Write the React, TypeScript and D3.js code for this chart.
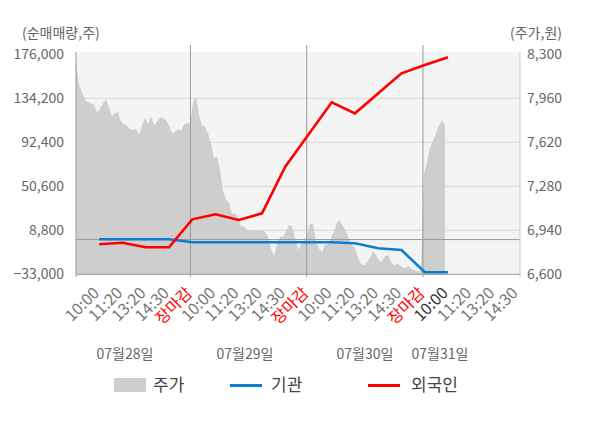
import * as d3 from 'd3';

// net buying (shares), left axis
const foreignNet = [-4500, -3000, -7300, -7300, 19200, 24000, 18600, 24900, 69200, 99800, 130400, 119900, 138900, 157900, 165800, 173100];
const instNet = [300, 300, 300, 300, -2600, -2600, -2600, -2600, -2600, -2600, -2600, -3500, -8300, -9900, -31100, -31100];

// stock price (won), right axis, one value per sample
const priceDay1 = [8260, 8060, 8010, 7950, 7930, 7920, 7910, 7850, 7880, 7920, 7950, 7890, 7820, 7850, 7850, 7780, 7760, 7750, 7720, 7720, 7720, 7680, 7750, 7810, 7760, 7820, 7750, 7780, 7810, 7810, 7790, 7750, 7690, 7700, 7720, 7710, 7760, 7770, 7760];
const priceDay2 = [7930, 7970, 7830, 7750, 7740, 7690, 7610, 7500, 7510, 7410, 7240, 7180, 7150, 7070, 7070, 7040, 6970, 6970, 6940, 6940, 6940, 6940, 6940, 6940, 6930, 6890, 6800, 6740, 6830, 6890, 6890, 6930, 6980, 6970, 6880, 6790, 6830, 6850];
const priceDay3 = [6910, 6990, 6990, 6850, 6800, 6770, 6830, 6830, 6880, 6930, 7000, 7020, 6970, 6930, 6870, 6830, 6800, 6730, 6680, 6670, 6690, 6730, 6780, 6750, 6700, 6700, 6740, 6750, 6700, 6670, 6680, 6670, 6650, 6650, 6660, 6640, 6630, 6620, 6630];
const priceDay4 = [7370, 7470, 7580, 7630, 7690, 7750, 7790, 7750];

const leftTicks = [-33000, 8800, 50600, 92400, 134200, 176000];
const rightTicks = [6600, 6940, 7280, 7620, 7960, 8300];
const timeLabels = ['10:00', '11:20', '13:20', '14:30', '장마감', '10:00', '11:20', '13:20', '14:30', '장마감', '10:00', '11:20', '13:20', '14:30', '장마감', '10:00', '11:20', '13:20', '14:30'];
const dateLabels = ['07월28일', '07월29일', '07월30일', '07월31일'];

const W = 600;
const H = 428;
const FONT = "'Noto Sans CJK KR', 'Noto Sans', sans-serif";
const SLOT = 7.75; // samples between time labels

export default function App() {
  const prices = [...priceDay1, ...priceDay2, ...priceDay3, ...priceDay4];

  const x = d3.scaleLinear().domain([0, 148]).range([76, 520]);
  const yL = d3.scaleLinear().domain([-33000, 176000]).range([274.3, 54.3]);
  const yR = d3.scaleLinear().domain([6600, 8300]).range([274.3, 54.3]);

  const plotTop = 51.7;
  const plotBottom = yL(-33000);
  const [x0, x1] = x.range();

  const area = d3
    .area<number>()
    .x((_, i) => x(i))
    .y0(plotBottom)
    .y1((d) => yR(d));

  const line = d3
    .line<number>()
    .x((_, i) => x((i + 1) * SLOT))
    .y((d) => yL(d));

  const dividers = [5, 10, 15].map((k) => x(k * SLOT - 0.6));
  const dateCenters = [125, 245, 365, 440];
  const fmt = d3.format(',');

  return (
    <svg width={W} height={H} style={{ position: 'absolute', left: 0, top: 0, background: '#fff' }} fontFamily={FONT}>
      <rect x={x0} y={plotTop} width={x1 - x0} height={plotBottom - plotTop} fill="#f4f4f4" />
      {leftTicks.slice(1, -1).map((t) => (
        <line key={t} x1={x0} x2={x1} y1={yL(t)} y2={yL(t)} stroke="#d8d8d8" strokeWidth={1} />
      ))}
      <path d={area(prices) ?? ''} fill="#cecece" />
      <line x1={x0} x2={x1} y1={yL(0)} y2={yL(0)} stroke="#999" strokeWidth={1} />
      {dividers.map((d, i) => (
        <line key={i} x1={d} x2={d} y1={45} y2={277} stroke="#999" strokeWidth={1} />
      ))}
      <line x1={x0} x2={x0} y1={plotTop} y2={277} stroke="#999" />
      <line x1={x1} x2={x1} y1={plotTop} y2={277} stroke="#ccc" />
      <line x1={x0} x2={x1} y1={plotBottom} y2={plotBottom} stroke="#999" />

      <path d={line(instNet) ?? ''} fill="none" stroke="#0a7fd0" strokeWidth={2.6} />
      <path d={line(foreignNet) ?? ''} fill="none" stroke="#ff0000" strokeWidth={2.6} />

      <text x={22} y={38} fontSize={14} fill="#666">(순매매량,주)</text>
      <text x={562} y={38} fontSize={14} fill="#666" textAnchor="end">(주가,원)</text>
      {leftTicks.map((t) => (
        <text key={t} x={64} y={yL(t)} dy="0.35em" fontSize={14} fill="#666" textAnchor="end">
          {fmt(t)}
        </text>
      ))}
      {rightTicks.map((t) => (
        <text key={t} x={527} y={yR(t)} dy="0.35em" fontSize={14} fill="#666">
          {fmt(t)}
        </text>
      ))}

      {timeLabels.map((t, i) => {
        const px = x((i + 1) * SLOT);
        const color = t === '장마감' ? '#ff0000' : i === 15 ? '#333' : '#777';
        return (
          <text
            key={i}
            transform={`translate(${px + 1},${294}) rotate(-45)`}
            textAnchor="end"
            fontSize={16}
            fill={color}
          >
            {t}
          </text>
        );
      })}

      {dateLabels.map((d, i) => (
        <text key={d} x={dateCenters[i]} y={359} fontSize={14} fill="#666" textAnchor="middle">
          {d}
        </text>
      ))}

      <g fontSize={17} fill="#444">
        <rect x={114} y={378} width={32} height={14} fill="#cecece" />
        <text x={153} y={391}>주가</text>
        <line x1={230} x2={262} y1={385.5} y2={385.5} stroke="#0a7fd0" strokeWidth={3} />
        <text x={271} y={391}>기관</text>
        <line x1={368} x2={400} y1={385.5} y2={385.5} stroke="#ff0000" strokeWidth={3} />
        <text x={411} y={391}>외국인</text>
      </g>
    </svg>
  );
}
